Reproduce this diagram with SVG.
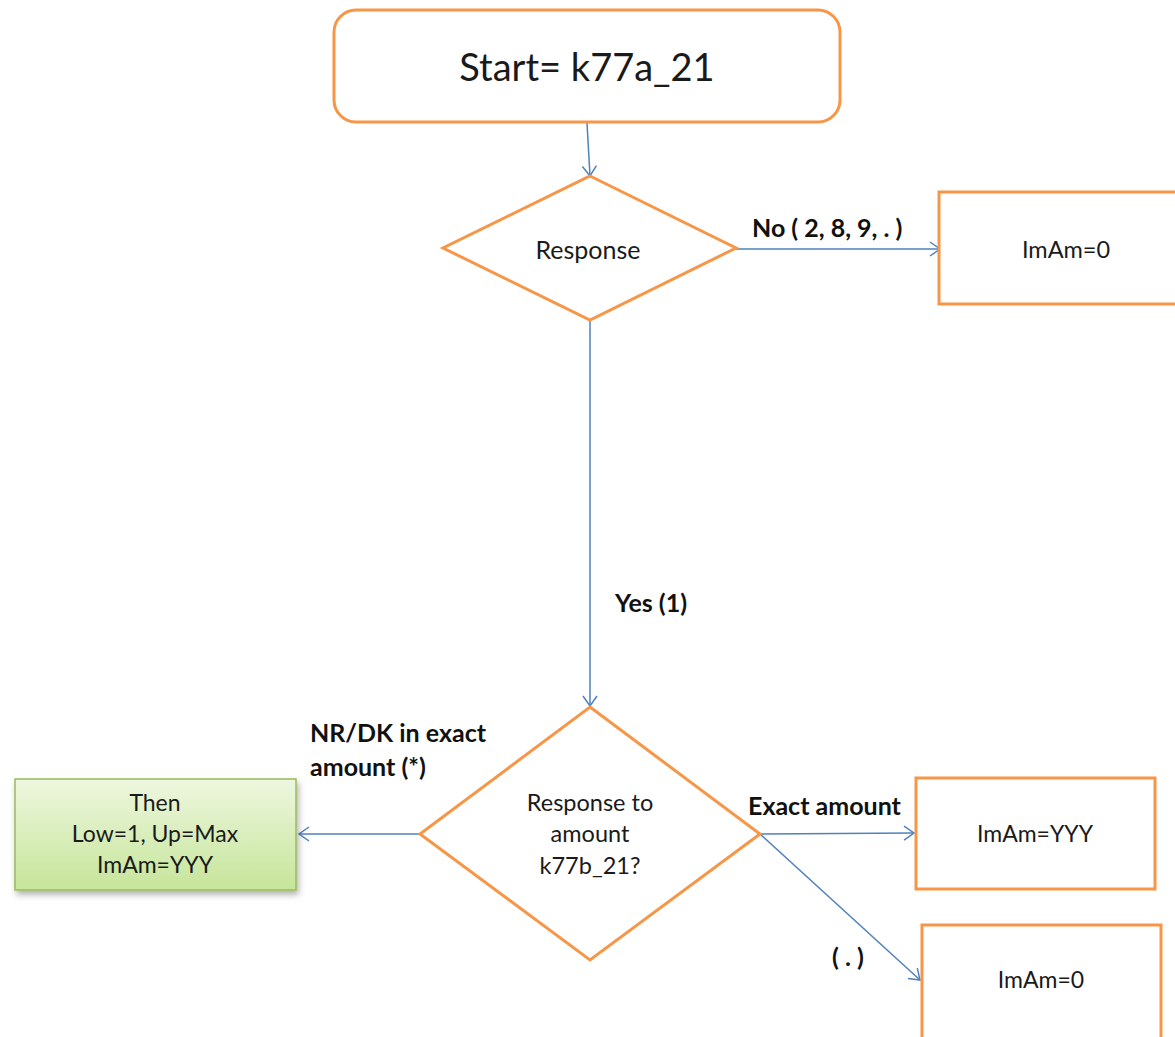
<svg xmlns="http://www.w3.org/2000/svg" width="1175" height="1037" viewBox="0 0 1175 1037">
<defs>
<style>
.node{fill:#fff;stroke:#F79646;stroke-width:3}
.t{font-family:Lato,"Liberation Sans",sans-serif;fill:#1a1a1a;text-anchor:middle}
.lbl{font-family:Lato,"Liberation Sans",sans-serif;font-weight:bold;fill:#111;font-size:25px}
.conn{stroke:#4F81BD;stroke-width:1.5;fill:none;marker-end:url(#arr)}
</style>
<marker id="arr" markerWidth="16" markerHeight="16" refX="12" refY="8" orient="auto" markerUnits="userSpaceOnUse">
<path d="M2,1 L12,8 L2,15" fill="none" stroke="#4F81BD" stroke-width="1.5"/>
</marker>
<linearGradient id="green" x1="0" y1="0" x2="0" y2="1">
<stop offset="0" stop-color="#EEF7DF"/>
<stop offset="1" stop-color="#C6E59A"/>
</linearGradient>
<filter id="shadow" x="-10%" y="-10%" width="130%" height="140%">
<feDropShadow dx="2" dy="4" stdDeviation="3" flood-color="#000" flood-opacity="0.3"/>
</filter>
</defs>
<rect width="1175" height="1037" fill="#fff"/>
<g id="connectors">
<line class="conn" x1="587" y1="123" x2="590" y2="176"/>
<line class="conn" x1="736" y1="249" x2="940" y2="249"/>
<line class="conn" x1="590" y1="320" x2="590" y2="706"/>
<line class="conn" x1="420" y1="834" x2="299" y2="834"/>
<line class="conn" x1="760" y1="834" x2="914" y2="833"/>
<line class="conn" x1="760" y1="834" x2="920" y2="980"/>
<text class="lbl" x="752" y="237">No ( 2, 8, 9, . )</text>
<text class="lbl" x="615" y="612">Yes (1)</text>
<text class="lbl" x="310" y="742">NR/DK in exact</text>
<text class="lbl" x="310" y="776">amount (*)</text>
<text class="lbl" x="748" y="815">Exact amount</text>
<text class="lbl" x="832" y="966">( . )</text>
</g>
<g id="start">
<rect class="node" x="334" y="10" width="506" height="112" rx="22"/>
<text class="t" x="587" y="81" font-size="38">Start= k77a_21</text>
</g>
<g id="response">
<polygon class="node" points="590,176 736,248 590,320 443,248"/>
<text class="t" x="588" y="259" font-size="25">Response</text>
</g>
<g id="no-box">
<rect class="node" x="939" y="192" width="240" height="112"/>
<text class="t" x="1066" y="258" font-size="23.5">ImAm=0</text>
</g>
<g id="amount">
<polygon class="node" points="590,707 760,834 590,960 420,834"/>
<text class="t" x="590" y="811" font-size="23.5">Response to</text>
<text class="t" x="590" y="842" font-size="23.5">amount</text>
<text class="t" x="590" y="874" font-size="23.5">k77b_21?</text>
</g>
<g id="then-box">
<rect x="15" y="779" width="281" height="111" fill="url(#green)" stroke="#9BBB59" stroke-width="1.5" filter="url(#shadow)"/>
<text class="t" x="155" y="811" font-size="23">Then</text>
<text class="t" x="155" y="842" font-size="23">Low=1, Up=Max</text>
<text class="t" x="155" y="873" font-size="23">ImAm=YYY</text>
</g>
<g id="exact-box">
<rect class="node" x="916" y="778" width="239" height="111"/>
<text class="t" x="1035" y="842" font-size="23">ImAm=YYY</text>
</g>
<g id="dot-box">
<rect class="node" x="922" y="925" width="239" height="120"/>
<text class="t" x="1041" y="988" font-size="23">ImAm=0</text>
</g>
</svg>
